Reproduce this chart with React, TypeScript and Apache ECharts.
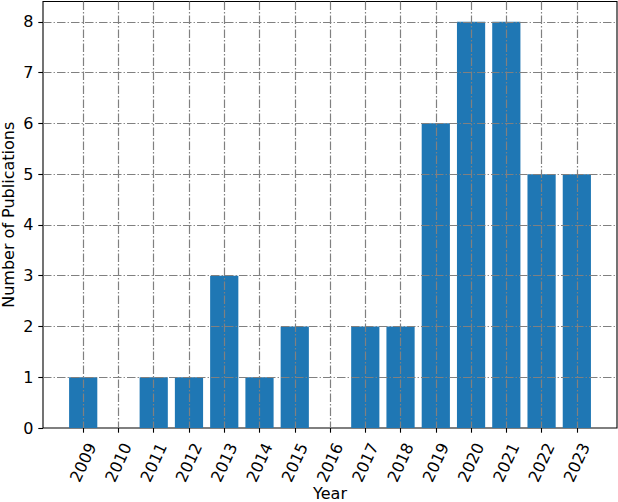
import React, { useEffect, useRef } from 'react';
import * as echarts from 'echarts';

const years = ['2009', '2010', '2011', '2012', '2013', '2014', '2015', '2016', '2017', '2018', '2019', '2020', '2021', '2022', '2023'];
const publications = [1, 0, 1, 1, 3, 1, 2, 0, 2, 2, 6, 8, 8, 5, 5];
const yTickValues = [0, 1, 2, 3, 4, 5, 6, 7, 8];
const yMax = 8.4;

const FONT = 'DejaVu Sans';
const FS = 16;
const DASH_DOT = [8.5, 2.1, 1.3, 2.1];

export default function App() {
  const ref = useRef<HTMLDivElement>(null);
  useEffect(() => {
    document.body.style.margin = '0';
    const chart = echarts.init(ref.current!, null, { renderer: 'svg' });
    chart.setOption({
      animation: false,
      textStyle: { fontFamily: FONT },
      grid: [
        { left: 43, top: 1.5, width: 574, height: 426.5, show: true, borderColor: '#000', borderWidth: 1.1, outerBoundsMode: 'none', containLabel: false },
        { left: 65.57, top: 1.5, width: 528.9, height: 426.5, show: false, outerBoundsMode: 'none', containLabel: false },
      ],
      xAxis: [
        { gridIndex: 0, type: 'value', show: false, min: 0, max: 1 },
        {
          gridIndex: 1,
          type: 'category',
          data: years,
          z: 3,
          axisLine: { show: false },
          axisTick: { show: true, alignWithLabel: true, length: 4.7, lineStyle: { color: '#000', width: 1.1 } },
          axisLabel: {
            rotate: 65,
            align: 'center',
            verticalAlign: 'middle',
            margin: 34.5,
            fontSize: FS,
            color: '#000',
            fontFamily: FONT,
            interval: 0,
          },
          splitLine: {
            show: true,
            alignWithLabel: true,
            interval: 0,
            lineStyle: { color: 'gray', type: DASH_DOT, width: 1.2 },
          },
          name: 'Year',
          nameLocation: 'middle',
          nameGap: 57,
          nameMoveOverlap: false,
          nameTextStyle: { fontSize: FS, color: '#000', fontFamily: FONT },
        },
      ],
      yAxis: [
        {
          gridIndex: 0,
          type: 'value',
          min: 0,
          max: yMax,
          interval: 1,
          z: 3,
          axisLine: { show: false },
          axisTick: { show: true, length: 4.7, customValues: yTickValues, lineStyle: { color: '#000', width: 1.1 } },
          axisLabel: {
            customValues: yTickValues,
            fontSize: FS,
            color: '#000',
            fontFamily: FONT,
            margin: 9.5,
          },
          splitLine: { show: true, lineStyle: { color: 'gray', type: DASH_DOT, width: 1.2 } },
          name: 'Number of Publications',
          nameLocation: 'middle',
          nameRotate: 90,
          nameGap: 27.5,
          nameMoveOverlap: false,
          nameTextStyle: { fontSize: FS, lineHeight: 14, color: '#000', fontFamily: FONT },
        },
        { gridIndex: 1, type: 'value', min: 0, max: yMax, show: false },
      ],
      series: [
        {
          type: 'bar',
          xAxisIndex: 1,
          yAxisIndex: 1,
          data: publications,
          barWidth: '80%',
          itemStyle: { color: '#1f77b4' },
        },
      ],
    });
    return () => chart.dispose();
  }, []);
  return <div ref={ref} style={{ width: 618, height: 502 }} />;
}
